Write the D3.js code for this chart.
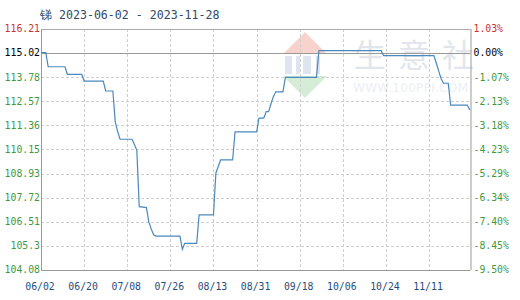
<!DOCTYPE html>
<html><head><meta charset="utf-8">
<script src="https://cdn.jsdelivr.net/npm/d3@7/dist/d3.min.js"></script>
<style>body{margin:0;background:#fff}svg{display:block}</style>
</head><body><svg id="c" width="520" height="300"></svg>
<script>
const titleText = "锑 2023-06-02 - 2023-11-28";
const dates = ["2023-06-02","2023-06-04","2023-06-05","2023-06-12","2023-06-13","2023-06-19","2023-06-20","2023-06-28","2023-06-29","2023-07-02","2023-07-03","2023-07-04","2023-07-05","2023-07-10","2023-07-11","2023-07-12","2023-07-13","2023-07-16","2023-07-17","2023-07-18","2023-07-19","2023-07-20","2023-07-30","2023-07-31","2023-08-01","2023-08-06","2023-08-07","2023-08-13","2023-08-14","2023-08-15","2023-08-16","2023-08-21","2023-08-22","2023-08-31","2023-09-01","2023-09-03","2023-09-04","2023-09-05","2023-09-06","2023-09-07","2023-09-08","2023-09-11","2023-09-12","2023-09-25","2023-09-26","2023-10-22","2023-10-23","2023-11-13","2023-11-14","2023-11-15","2023-11-16","2023-11-17","2023-11-19","2023-11-20","2023-11-27","2023-11-28"];
const values = [115.02,115.02,114.31,114.31,113.93,113.93,113.59,113.59,113.09,113.09,111.54,111.05,110.66,110.66,110.40,110.10,107.27,107.22,106.50,106.15,105.85,105.79,105.79,105.12,105.42,105.42,106.85,106.85,108.95,109.30,109.62,109.62,111.03,111.03,111.72,111.72,112.05,112.05,112.45,112.80,113.05,113.05,113.78,113.78,115.12,115.12,114.87,114.87,114.50,114.10,113.72,113.48,113.48,112.38,112.38,112.13];
const xTickLabels = ["06/02","06/20","07/08","07/26","08/13","08/31","09/18","10/06","10/24","11/11"];
const yTickLabels = ["116.21","115.02","113.78","112.57","111.36","110.15","108.93","107.72","106.51","105.3","104.08"];
const pctLabels = ["1.03%","0.00%","-1.07%","-2.13%","-3.18%","-4.23%","-5.29%","-6.34%","-7.40%","-8.45%","-9.50%"];
const baseValue = 115.02;
const watermarkChars = ["生","意","社"];
const watermarkUrl = "WWW.100PPI.COM";

const svg = d3.select("#c");
const L = 41, R = 470.5, T = 29, B = 270;
const parse = d3.timeParse("%Y-%m-%d");
const x = d3.scaleTime().domain([parse("2023-06-02"), parse("2023-11-28")]).range([L, 469.8]);
const yMin = +yTickLabels[yTickLabels.length-1], yMax = +yTickLabels[0];
const y = d3.scaleLinear().domain([yMin, yMax]).range([B, T]);
const font = "'DejaVu Sans Mono', monospace";

// watermark
const wm = svg.append("g");
wm.append("path").attr("d","M283,54 L305,32 L327,54 Z").attr("fill","#f7d3cc");
wm.append("path").attr("d","M283,76 L305,98 L327,76 Z").attr("fill","#d5ecd6");
[[285,56,7,18],[296,56,4,18],[303,56,8,18],[316,56,4,18]].forEach(r=>
  wm.append("rect").attr("x",r[0]).attr("y",r[1]).attr("width",r[2]).attr("height",r[3]).attr("fill","#dfe5f0"));
wm.selectAll(".wc").data(watermarkChars).join("text")
  .attr("x",(d,i)=>354+i*44).attr("y",67).attr("font-family","'Noto Sans CJK SC'").attr("font-size",32)
  .attr("fill","#e2e6ec").text(d=>d);
wm.append("text").attr("x",353).attr("y",92).attr("font-family","'DejaVu Sans'").attr("font-size",12)
  .attr("textLength",115).attr("fill","#eceff3").text(watermarkUrl);

// grid
const xTickDates = xTickLabels.map(s => parse("2023-" + s.replace("/","-")));
const g = svg.append("g");
g.selectAll(".vg").data(xTickDates.slice(1)).join("line")
  .attr("x1",d=>Math.round(x(d))+0.5).attr("x2",d=>Math.round(x(d))+0.5).attr("y1",T).attr("y2",B)
  .attr("stroke","#cfcfcf").attr("stroke-dasharray","3,2");
g.selectAll(".hg").data(yTickLabels.slice(1,-1)).join("line")
  .attr("x1",L).attr("x2",R).attr("y1",d=>Math.round(y(+d))+0.5).attr("y2",d=>Math.round(y(+d))+0.5)
  .attr("stroke",d=>+d===baseValue?"#999":"#cfcfcf").attr("stroke-dasharray",d=>+d===baseValue?null:"3,2");
// frame
svg.append("line").attr("x1",L).attr("x2",R).attr("y1",T+0.5).attr("y2",T+0.5).attr("stroke","#aaa");
svg.append("line").attr("x1",L).attr("x2",R).attr("y1",B+0.5).attr("y2",B+0.5).attr("stroke","#999");
svg.append("line").attr("x1",L+0.5).attr("x2",L+0.5).attr("y1",T).attr("y2",B).attr("stroke","#999");
svg.append("line").attr("x1",R+0.5).attr("x2",R+0.5).attr("y1",T).attr("y2",B).attr("stroke","#999");

// line
const data = dates.map((d,i)=>({d:parse(d), v:values[i]}));
svg.append("path").datum(data).attr("fill","none").attr("stroke","#4a88bd").attr("stroke-width",1.2)
  .attr("d", d3.line().x(p=>x(p.d)).y(p=>y(p.v)));

// labels
const colorFor = (i)=> i===0 ? "#cc3333" : (i===1 ? "#000" : "#3f9a3f");
svg.selectAll(".yl").data(yTickLabels).join("text")
  .attr("x",L-1).attr("y",d=>y(+d)).attr("dy","0.35em").attr("text-anchor","end")
  .attr("font-family",font).attr("font-size",9.8).attr("fill",(d,i)=>colorFor(i)).text(d=>d);
svg.selectAll(".yr").data(pctLabels).join("text")
  .attr("x",R+3).attr("y",(d,i)=>y(+yTickLabels[i])).attr("dy","0.35em").attr("text-anchor","start")
  .attr("font-family",font).attr("font-size",9.8).attr("fill",(d,i)=>colorFor(i)).text(d=>d);
svg.selectAll(".xl").data(xTickDates).join("text")
  .attr("x",d=>x(d)-1).attr("y",290).attr("text-anchor","middle")
  .attr("font-family",font).attr("font-size",9.8).attr("fill","#1f4e7a").text((d,i)=>xTickLabels[i]);
svg.append("text").attr("x",40).attr("y",19).attr("font-family",font).attr("font-size",11.6)
  .attr("fill","#2e4a66").text(titleText);
</script></body></html>
